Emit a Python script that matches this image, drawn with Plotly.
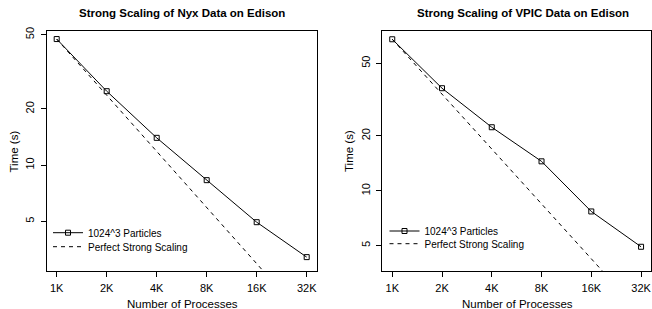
import math
import plotly.graph_objects as go

# ---- data ----
procs = [1024, 2048, 4096, 8192, 16384, 32768]
tick_labels = ["1K", "2K", "4K", "8K", "16K", "32K"]

nyx_time = [47.4, 24.9, 14.0, 8.3, 4.94, 3.21]
nyx_perfect = [47.4, 23.7, 11.85, 5.93, 2.96, 1.48]

vpic_time = [67.7, 36.5, 22.3, 14.5, 7.7, 4.93]
vpic_perfect = [67.7, 33.85, 16.9, 8.46, 4.23, 2.12]

y_ticks = [5, 10, 20, 50]

titles = ["Strong Scaling of Nyx Data on Edison", "Strong Scaling of VPIC Data on Edison"]
series_name = "1024^3 Particles"
perfect_name = "Perfect Strong Scaling"

FONT = "Liberation Sans, Arial, Helvetica, sans-serif"
W, H = 652, 309

fig = go.Figure()

def add_panel(idx, times, perfect):
    xa = "x" if idx == 1 else "x2"
    ya = "y" if idx == 1 else "y2"
    leg_a = "legend" if idx == 1 else "legend3"
    leg_b = "legend2" if idx == 1 else "legend4"
    fig.add_trace(go.Scatter(
        x=procs, y=times, mode="lines+markers", name=series_name,
        line=dict(color="black", width=1),
        marker=dict(symbol="square-open", size=5, color="black", line=dict(width=1, color="black")),
        xaxis=xa, yaxis=ya, legend=leg_a, showlegend=True))
    fig.add_trace(go.Scatter(
        x=procs, y=perfect, mode="lines", name=perfect_name,
        line=dict(color="black", width=1, dash="4px,4px"),
        xaxis=xa, yaxis=ya, legend=leg_b, showlegend=True))

add_panel(1, nyx_time, nyx_perfect)
add_panel(2, vpic_time, vpic_perfect)

l2 = math.log10(2)
xr = [math.log10(procs[0]) - 0.2 * l2, math.log10(procs[-1]) + 0.2 * l2]

def px(v):
    return v / W

def py(v):
    return (H - v) / H

ydom = [py(271), py(31)]

common_x = dict(type="log", range=xr, tickvals=procs, ticktext=tick_labels,
                showgrid=False, zeroline=False, showline=True, mirror=True,
                linecolor="black", linewidth=1, ticks="outside", ticklen=5,
                tickcolor="black", tickfont=dict(family=FONT, size=11, color="black"),
                ticklabelstandoff=2, automargin=False)
common_y = dict(type="log", tickvals=y_ticks, ticktext=[str(v) for v in y_ticks],
                showgrid=False, zeroline=False, showline=True, mirror=True,
                linecolor="black", linewidth=1, ticks="outside", ticklen=5,
                tickcolor="black", tickangle=-90,
                tickfont=dict(family=FONT, size=11, color="black"),
                ticklabelstandoff=2, automargin=False)

def leg(xp, yp):
    return dict(x=px(xp), y=py(yp), xanchor="left", yanchor="middle",
                bgcolor="rgba(0,0,0,0)", borderwidth=0,
                font=dict(family=FONT, size=10, color="black"),
                tracegroupgap=0, itemwidth=30)

fig.update_layout(
    template="none",
    width=W, height=H,
    margin=dict(l=0, r=0, t=0, b=0, autoexpand=False),
    paper_bgcolor="white", plot_bgcolor="white",
    font=dict(family=FONT, color="black"),
    xaxis=dict(domain=[px(46.7), px(316.7)], anchor="y", **common_x),
    yaxis=dict(domain=ydom, anchor="x", range=[0.432, 1.719], **common_y),
    xaxis2=dict(domain=[px(382.3), px(651)], anchor="y2", **common_x),
    yaxis2=dict(domain=ydom, anchor="x2", range=[0.560, 1.876], **common_y),
    legend=leg(48, 232.7),
    legend2=leg(48, 246.7),
    legend3=leg(384.5, 231),
    legend4=leg(384.5, 243.7),
)

annotations = []
for cx, t in [(182, titles[0]), (522.7, titles[1])]:
    annotations.append(dict(text="<b>" + t + "</b>", x=px(cx), y=py(12.5), xref="paper", yref="paper",
                            xanchor="center", yanchor="middle", showarrow=False,
                            font=dict(family=FONT, size=11.5, color="black")))
for cx in [182, 517]:
    annotations.append(dict(text="Number of Processes", x=px(cx), y=py(303.5), xref="paper", yref="paper",
                            xanchor="center", yanchor="middle", showarrow=False,
                            font=dict(family=FONT, size=11.5, color="black")))
for cx in [13.5, 349]:
    annotations.append(dict(text="Time (s)", x=px(cx), y=py(151), xref="paper", yref="paper",
                            xanchor="center", yanchor="middle", showarrow=False, textangle=-90,
                            font=dict(family=FONT, size=11.5, color="black")))
fig.update_layout(annotations=annotations)

fig.write_html("out.html", config={"displayModeBar": False},
               post_script="document.body.style.margin='0';document.body.style.padding='0';document.body.style.overflow='hidden';")
